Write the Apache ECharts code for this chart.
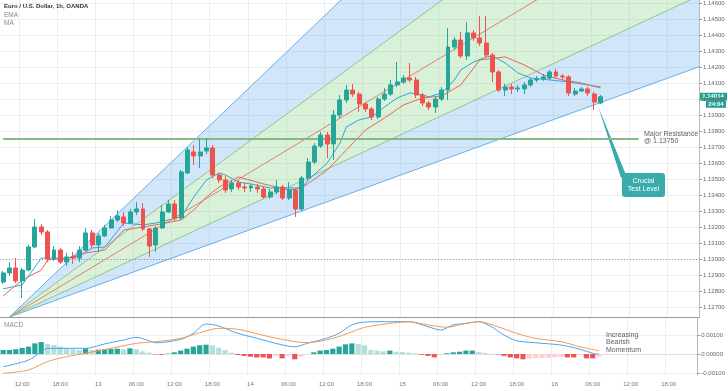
<!DOCTYPE html>
<html><head><meta charset="utf-8">
<script src="https://cdn.jsdelivr.net/npm/echarts@6/dist/echarts.min.js"></script>
<style>html,body{margin:0;padding:0;background:#fff}#c{width:728px;height:391px}</style>
</head><body><div id="c"></div>
<script>
// ---------- data ----------
const firstHour = 9;          // first category: 12th 09:00 (hours counted from 12th 00:00)
const categoryCount = 110;
const categories = [];
for (let i = 0; i < categoryCount; i++) {
  const h = firstHour + i, d = 12 + Math.floor(h / 24), hh = h % 24;
  categories.push(hh === 0 ? String(d) : (hh < 10 ? '0' : '') + hh + ':00');
}
// candles from 12th 09:00 onward: [open, close, low, high]
const candles = [
[1.12856,1.12913,1.12844,1.12925],[1.12913,1.12944,1.12894,1.12981],[1.12944,1.12863,1.12850,1.13006],
[1.12863,1.12931,1.12756,1.12944],[1.12931,1.13075,1.12925,1.13088],[1.13075,1.13200,1.13069,1.13250],
[1.13200,1.13169,1.13150,1.13219],[1.13169,1.13000,1.12981,1.13181],[1.13000,1.13056,1.12988,1.13081],
[1.13056,1.12981,1.12969,1.13069],[1.12981,1.13013,1.12956,1.13038],[1.13013,1.13006,1.12969,1.13044],
[1.13006,1.13056,1.12981,1.13081],[1.13056,1.13163,1.13050,1.13194],[1.13163,1.13088,1.13069,1.13181],
[1.13088,1.13144,1.13044,1.13163],[1.13144,1.13194,1.13138,1.13213],[1.13194,1.13244,1.13188,1.13269],
[1.13244,1.13269,1.13231,1.13306],[1.13263,1.13225,1.13206,1.13294],[1.13225,1.13294,1.13219,1.13313],
[1.13294,1.13313,1.13275,1.13356],[1.13313,1.13188,1.13175,1.13350],[1.13188,1.13081,1.13013,1.13194],
[1.13088,1.13194,1.13044,1.13206],[1.13194,1.13294,1.13188,1.13338],[1.13294,1.13344,1.13288,1.13369],
[1.13344,1.13256,1.13238,1.13369],[1.13256,1.13544,1.13244,1.13556],[1.13538,1.13681,1.13531,1.13700],
[1.13669,1.13644,1.13588,1.13713],[1.13644,1.13669,1.13569,1.13756],[1.13675,1.13694,1.13656,1.13756],
[1.13694,1.13525,1.13506,1.13713],[1.13525,1.13494,1.13475,1.13538],[1.13494,1.13431,1.13413,1.13519],
[1.13438,1.13475,1.13419,1.13494],[1.13475,1.13450,1.13431,1.13494],[1.13450,1.13444,1.13419,1.13475],
[1.13444,1.13456,1.13419,1.13469],[1.13450,1.13438,1.13413,1.13469],[1.13438,1.13388,1.13375,1.13456],
[1.13388,1.13419,1.13375,1.13438],[1.13419,1.13450,1.13406,1.13494],[1.13450,1.13381,1.13369,1.13463],
[1.13381,1.13431,1.13369,1.13481],[1.13431,1.13313,1.13263,1.13438],[1.13313,1.13506,1.13300,1.13519],
[1.13506,1.13606,1.13488,1.13631],[1.13606,1.13706,1.13594,1.13725],[1.13706,1.13775,1.13694,1.13794],
[1.13775,1.13719,1.13631,1.13794],[1.13719,1.13900,1.13619,1.13931],[1.13900,1.13994,1.13881,1.14025],
[1.13994,1.14056,1.13975,1.14088],[1.14056,1.14031,1.14013,1.14094],[1.14031,1.13969,1.13919,1.14044],
[1.13969,1.13938,1.13919,1.13981],[1.13938,1.13888,1.13869,1.13950],[1.13888,1.14000,1.13875,1.14013],
[1.14000,1.14031,1.13988,1.14069],[1.14031,1.14088,1.14019,1.14119],[1.14088,1.14106,1.14075,1.14231],
[1.14106,1.14131,1.14094,1.14150],[1.14131,1.14119,1.14106,1.14225],[1.14119,1.14025,1.14006,1.14138],
[1.14025,1.13975,1.13956,1.14038],[1.13975,1.13950,1.13931,1.13988],[1.13950,1.14000,1.13913,1.14019],
[1.14000,1.14056,1.13988,1.14075],[1.14056,1.14325,1.13994,1.14444],[1.14325,1.14369,1.14306,1.14388],
[1.14369,1.14269,1.14256,1.14419],[1.14269,1.14413,1.14244,1.14481],[1.14413,1.14381,1.14363,1.14431],
[1.14381,1.14350,1.14331,1.14519],[1.14350,1.14275,1.14256,1.14519],[1.14275,1.14169,1.14106,1.14288],
[1.14169,1.14056,1.14044,1.14181],[1.14056,1.14075,1.14019,1.14094],[1.14075,1.14063,1.14031,1.14094],
[1.14063,1.14069,1.14044,1.14088],[1.14063,1.14088,1.14031,1.14106],[1.14088,1.14119,1.14075,1.14131],
[1.14119,1.14125,1.14106,1.14144],[1.14125,1.14138,1.14113,1.14156],[1.14131,1.14169,1.14119,1.14181],
[1.14169,1.14144,1.14131,1.14188],[1.14144,1.14138,1.14119,1.14156],[1.14138,1.14038,1.14019,1.14150],
[1.14031,1.14050,1.14019,1.14069],[1.14050,1.14063,1.14044,1.14075],[1.14063,1.14038,1.14019,1.14075],
[1.14031,1.13981,1.13931,1.14044],[1.13975,1.14014,1.13969,1.14025]
];
// indicator points: [hour, value]
const emaPoints = [[9,1.12813],[12,1.12838],[14,1.12950],[15,1.13006],[19,1.13006],[21,1.13019],[23,1.13069],[25,1.13075],[28,1.13225],[31,1.13213],[33,1.13225],[37,1.13263],[39,1.13388],[41,1.13494],[43,1.13538],[44,1.13525],[46,1.13481],[48,1.13469],[51,1.13444],[56,1.13444],[57,1.13494],[60,1.13600],[62,1.13725],[63,1.13825],[65,1.13869],[67,1.13888],[69,1.13950],[71,1.14006],[73,1.14038],[75,1.14025],[76,1.14013],[78,1.14038],[80,1.14119],[81,1.14181],[83,1.14231],[85,1.14263],[86,1.14269],[88,1.14225],[90,1.14163],[92,1.14131],[95,1.14119],[98,1.14106],[101,1.14088],[103,1.14075]];
const maPoints = [[9,1.12769],[12,1.12869],[15,1.12931],[16,1.12994],[19,1.13006],[22,1.13038],[25,1.13056],[28,1.13181],[31,1.13200],[33,1.13213],[37,1.13244],[39,1.13306],[41,1.13388],[43,1.13450],[46,1.13513],[50,1.13469],[54,1.13431],[56,1.13444],[60,1.13556],[63,1.13681],[66,1.13806],[69,1.13881],[72,1.13963],[75,1.14006],[78,1.14019],[81,1.14088],[84,1.14244],[88,1.14263],[91,1.14213],[94,1.14150],[97,1.14119],[100,1.14100],[103,1.14069]];
const macdPoints = [[9,-0.00067],[13,-0.00032],[15,0.00012],[16,0.0003],[20,0.0003],[22,0.0003],[25,0.00053],[28,0.00074],[30,0.00088],[32,0.0007],[33,0.00059],[37,0.00077],[39,0.00109],[41,0.00158],[43,0.00147],[46,0.00109],[49,0.00083],[52,0.00056],[55,0.00038],[57,0.00056],[60,0.00083],[62,0.00109],[64,0.00153],[66,0.00168],[68,0.0017],[73,0.0017],[76,0.00144],[78,0.00126],[80,0.00153],[82,0.00161],[84,0.0017],[86,0.00144],[88,0.001],[90,0.0007],[93,0.00059],[97,0.00047],[100,0.00025],[102,0.00004],[103,0.0]];
const signalPoints = [[9,-0.00102],[13,-0.00084],[16,-0.0004],[19,-0.00014],[22,0.00004],[26,0.0003],[30,0.00056],[33,0.00065],[37,0.00082],[40,0.00112],[43,0.00135],[46,0.0013],[51,0.00091],[55,0.00065],[57,0.0006],[61,0.00082],[64,0.00117],[66,0.0014],[70,0.00161],[73,0.0017],[76,0.00153],[79,0.00141],[82,0.00161],[84,0.0017],[87,0.00144],[90,0.00109],[93,0.00082],[97,0.00065],[100,0.00038],[103,0.00017]];
// MACD histogram from 12th 09:00 onward
const histogram = [0.00021,0.00021,0.00025,0.00032,0.00039,0.00056,0.00063,0.00053,0.00047,0.00039,0.00032,0.00025,0.00021,0.00030,0.00021,0.00023,0.00025,0.00026,0.00028,0.00025,0.00030,0.00025,0.00014,0.00007,-0.00002,-0.00004,0.00002,0.00009,0.00018,0.00028,0.00039,0.00046,0.00049,0.00046,0.00033,0.00021,0.00007,-0.00005,-0.00010,-0.00014,-0.00018,-0.00018,-0.00023,-0.00010,-0.00023,-0.00010,-0.00028,-0.00014,-0.00004,0.00009,0.00018,0.00021,0.00028,0.00039,0.00051,0.00056,0.00053,0.00046,0.00021,0.00018,0.00014,0.00018,0.00012,0.00010,0.00007,0.00004,-0.00004,-0.00010,-0.00018,-0.00004,0.00004,0.00009,0.00012,0.00018,0.00018,0.00011,0.00005,0.00002,-0.00002,-0.00010,-0.00018,-0.00023,-0.00028,-0.00025,-0.00023,-0.00021,-0.00019,-0.00018,-0.00014,-0.00018,-0.00018,-0.00005,-0.00023,-0.00023,-0.00014];
const priceTicks = [1.127,1.128,1.129,1.130,1.131,1.132,1.133,1.134,1.135,1.136,1.137,1.138,1.139,1.140,1.141,1.142,1.143,1.144,1.145,1.146];
const macdTicks = [-0.001, 0, 0.001];
// Fibonacci fan: origin [category index, price], and each level's price at fanEndIndex
const fanOrigin = [1, 1.126375];
const fanEndIndex = 109;
const fanLevels = [1.16739, 1.15780, 1.15218, 1.14636, 1.14194];
const resistance = 1.1375, resistanceEndIndex = 100;
const dottedLevel = 1.128;
const lastClose = 1.14014;

// ---------- helpers ----------
function sparse(points) {
  const arr = new Array(categoryCount).fill(null);
  points.forEach(([h, v]) => { arr[h - firstHour] = v; });
  return arr;
}
const showHour = (idx) => (firstHour + idx) % 6 === 0;
const histData = histogram.map((v, i) => {
  const prev = i > 0 ? histogram[i - 1] : v;
  let c;
  if (v >= 0) c = v >= prev ? '#26a69a' : '#b2dfdb';
  else c = v <= prev ? '#ef5350' : '#ffcdd2';
  return { value: v, itemStyle: { color: c } };
});

const chart = echarts.init(document.getElementById('c'));
const gridL = -8, gridW = 707;
const blueFill = 'rgba(90,165,235,0.28)', greenFill = 'rgba(120,200,120,0.28)';
const blueLine = '#6aaee6', greenLine = '#8cc78c', redLine = '#e4806a';

chart.setOption({
  animation: false,
  grid: [
    { left: gridL, width: gridW, top: 0, height: 317 },
    { left: gridL, width: gridW, top: 318, height: 57 }
  ],
  xAxis: [
    { type: 'category', gridIndex: 0, data: categories, boundaryGap: true,
      axisLine: { show: true, lineStyle: { color: '#9a9a9a' } }, axisTick: { show: false }, axisLabel: { show: false },
      splitLine: { show: true, interval: showHour, lineStyle: { color: '#eceef2' } } },
    { type: 'category', gridIndex: 1, data: categories, boundaryGap: true,
      axisLine: { show: true, lineStyle: { color: '#e0e0e0' } }, axisTick: { show: false },
      axisLabel: { interval: showHour, fontSize: 6, color: '#777', margin: 6, fontFamily: 'Liberation Sans' },
      splitLine: { show: true, interval: showHour, lineStyle: { color: '#eceef2' } } }
  ],
  yAxis: [
    { type: 'value', gridIndex: 0, position: 'right', min: 1.126375, max: 1.146188,
      axisLine: { show: true, lineStyle: { color: '#bbb' } },
      axisTick: { show: true, length: 3, customValues: priceTicks, lineStyle: { color: '#999' } },
      axisLabel: { customValues: priceTicks, formatter: v => v.toFixed(5), fontSize: 6, color: '#666', margin: 4, fontFamily: 'Liberation Sans' },
      splitLine: { show: true, lineStyle: { color: '#eceef2' } } },
    { type: 'value', gridIndex: 1, position: 'right', min: -0.001105, max: 0.001895,
      axisLine: { show: true, lineStyle: { color: '#bbb' } },
      axisTick: { show: true, length: 3, customValues: macdTicks, lineStyle: { color: '#999' } },
      axisLabel: { customValues: macdTicks, formatter: v => v.toFixed(5), fontSize: 6, color: '#666', margin: 4, fontFamily: 'Liberation Sans' },
      splitLine: { show: true, lineStyle: { color: '#eceef2' } } }
  ],
  series: [
    { type: 'custom', xAxisIndex: 0, yAxisIndex: 0, clip: true, silent: true, z: 1,
      data: [[fanOrigin[0], fanOrigin[1]]],
      renderItem(params, api) {
        const o = api.coord(fanOrigin);
        const ends = fanLevels.map(p => api.coord([fanEndIndex, p]));
        const ext = ends.map(e => [o[0] + (e[0] - o[0]) * 3, o[1] + (e[1] - o[1]) * 3]);
        const poly = (a, b, fill) => ({ type: 'polygon', shape: { points: [o, a, b] }, style: { fill } });
        const ln = (a, stroke) => ({ type: 'line', shape: { x1: o[0], y1: o[1], x2: a[0], y2: a[1] }, style: { stroke, lineWidth: 1 } });
        return { type: 'group', children: [
          poly(ext[0], ext[1], blueFill), poly(ext[1], ext[3], greenFill), poly(ext[3], ext[4], blueFill),
          ln(ext[0], blueLine), ln(ext[1], greenLine), ln(ext[2], redLine), ln(ext[3], greenLine), ln(ext[4], blueLine)
        ] };
      } },
    { type: 'candlestick', xAxisIndex: 0, yAxisIndex: 0, z: 5, data: candles, barWidth: '70%',
      itemStyle: { color: '#26a69a', color0: '#ef5350', borderColor: '#26a69a', borderColor0: '#ef5350', borderWidth: 1 },
      markLine: { symbol: 'none', silent: true, label: { show: false },
        data: [
          [{ coord: [0, resistance], lineStyle: { color: '#86b886', width: 2, type: 'solid' } }, { coord: [resistanceEndIndex, resistance] }],
          { yAxis: dottedLevel, lineStyle: { color: '#9a9a9a', width: 1, type: [1, 2] } }
        ] } },
    { type: 'line', xAxisIndex: 0, yAxisIndex: 0, z: 4, data: sparse(emaPoints), connectNulls: true, symbol: 'none',
      lineStyle: { color: '#2fa4d8', width: 1 } },
    { type: 'line', xAxisIndex: 0, yAxisIndex: 0, z: 4, data: sparse(maPoints), connectNulls: true, symbol: 'none',
      lineStyle: { color: '#e0685a', width: 1 } },
    { type: 'bar', xAxisIndex: 1, yAxisIndex: 1, data: histData, barWidth: '82%' },
    { type: 'line', xAxisIndex: 1, yAxisIndex: 1, data: sparse(macdPoints), connectNulls: true, symbol: 'none', smooth: 0.3,
      lineStyle: { color: '#4aa3e8', width: 1 } },
    { type: 'line', xAxisIndex: 1, yAxisIndex: 1, data: sparse(signalPoints), connectNulls: true, symbol: 'none', smooth: 0.3,
      lineStyle: { color: '#f39a55', width: 1 } }
  ]
});

const yLast = chart.convertToPixel({ yAxisIndex: 0 }, lastClose);
const fontF = '"Liberation Sans", Arial, sans-serif';
chart.setOption({
  graphic: [
    { type: 'text', left: 4, top: 3, style: { text: 'Euro / U.S. Dollar, 1h, OANDA', font: 'bold 6px ' + fontF, fill: '#333' } },
    { type: 'text', left: 4, top: 12, style: { text: 'EMA', font: '6.5px ' + fontF, fill: '#888' } },
    { type: 'text', left: 4, top: 20, style: { text: 'MA', font: '6.5px ' + fontF, fill: '#888' } },
    { type: 'text', left: 4, top: 322, style: { text: 'MACD', font: '6.5px ' + fontF, fill: '#888' } },
    { type: 'text', x: 644, y: 131, style: { text: 'Major Resistance\n@ 1.13750', font: '7px ' + fontF, lineHeight: 7, fill: '#5b6068' } },
    { type: 'text', x: 606, y: 331, style: { text: 'Increasing\nBearish\nMomentum', font: '7px ' + fontF, lineHeight: 7.5, fill: '#5b6068' } },
    { type: 'polygon', shape: { points: [[598, 106], [621, 178], [626, 175]] }, style: { fill: '#3aabab' } },
    { type: 'rect', shape: { x: 622, y: 173, width: 43, height: 24, r: 3 }, style: { fill: '#3aabab' } },
    { type: 'text', x: 643.5, y: 185, style: { text: 'Crucial\nTest Level', font: '7px ' + fontF, lineHeight: 8, fill: '#fff', align: 'center', verticalAlign: 'middle' } },
    { type: 'rect', shape: { x: 699, y: yLast - 4, width: 28, height: 8 }, style: { fill: '#22a094' } },
    { type: 'text', x: 713, y: yLast, style: { text: '1.14014', font: 'bold 6px ' + fontF, fill: '#fff', align: 'center', verticalAlign: 'middle' } },
    { type: 'rect', shape: { x: 706, y: yLast + 4, width: 20, height: 7 }, style: { fill: '#22a094' } },
    { type: 'text', x: 716, y: yLast + 7.5, style: { text: '24:04', font: 'bold 6px ' + fontF, fill: '#fff', align: 'center', verticalAlign: 'middle' } }
  ]
});
</script></body></html>
